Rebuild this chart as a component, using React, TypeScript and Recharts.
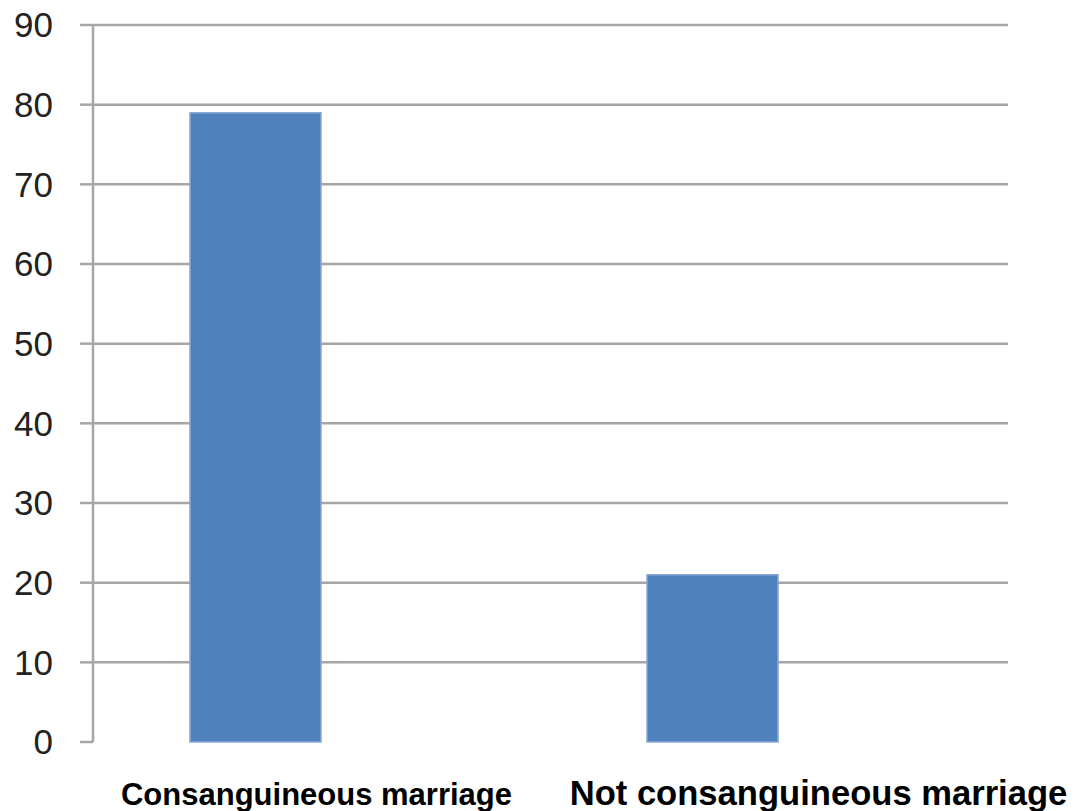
import { BarChart, Bar, XAxis, YAxis, CartesianGrid } from 'recharts';

const categories = ['Consanguineous marriage', 'Not consanguineous marriage'];
const values = [79, 21];
const yTicks = [0, 10, 20, 30, 40, 50, 60, 70, 80, 90];

const data = categories.map((name, i) => ({ name, value: values[i] }));

const GRID = '#a6a6a6';
const BAR = '#4f81bd';

// label styling per category, the second label is set larger in the source
const LABEL_STYLE = [
  { size: 31, dx: 61 },
  { size: 34.6, dx: 106 },
];

function XTick(props: any) {
  const { x, y, payload, index } = props;
  const st = LABEL_STYLE[index] || LABEL_STYLE[0];
  return (
    <text
      x={x + st.dx}
      y={y + 63}
      textAnchor="middle"
      fontFamily="'Liberation Sans', Arial, sans-serif"
      fontWeight="bold"
      fontSize={st.size}
      fill="#000"
    >
      {payload.value}
    </text>
  );
}

export default function App() {
  return (
    <div style={{ position: 'absolute', left: 0, top: 0, background: '#fff' }}>
      <BarChart
        width={1075}
        height={811}
        data={data}
        margin={{ top: 25, right: 67, left: 0, bottom: 0 }}
      >
        <CartesianGrid
          vertical={false}
          stroke={GRID}
          strokeWidth={2.5}
          horizontalValues={yTicks.filter((t) => t > 0)}
        />
        <XAxis
          dataKey="name"
          axisLine={false}
          tickLine={false}
          tickSize={0}
          tickMargin={0}
          height={69}
          interval={0}
          padding={{ left: -66, right: 67 }}
          tick={<XTick />}
        />
        <YAxis
          width={93}
          domain={[0, 90]}
          ticks={yTicks}
          interval={0}
          axisLine={{ stroke: GRID, strokeWidth: 2.5 }}
          tickLine={{ stroke: GRID, strokeWidth: 2.5 }}
          tickSize={13}
          tickMargin={27}
          tick={{ fontSize: 35, fill: '#222', fontFamily: "'Liberation Sans', Arial, sans-serif" }}
        />
        <Bar
          dataKey="value"
          fill={BAR}
          stroke="#8aa8d6"
          strokeWidth={1.5}
          barSize={131}
          isAnimationActive={false}
        />
      </BarChart>
    </div>
  );
}
